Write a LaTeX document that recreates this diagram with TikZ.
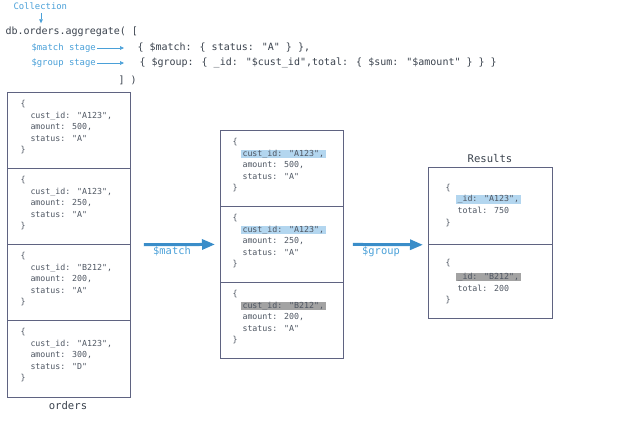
\documentclass[tikz,border=0pt]{standalone}
\usepackage{fontspec}
\newfontfamily\mono{DejaVu Sans Mono}
\usetikzlibrary{arrows.meta}
\definecolor{codecol}{HTML}{3A424D}
\definecolor{cellcol}{HTML}{4E5662}
\definecolor{lblblue}{HTML}{4AA0D8}
\definecolor{arrblue}{HTML}{3A8DC9}
\definecolor{hlb}{HTML}{B3D6EF}
\definecolor{hlg}{HTML}{A3A3A3}
\definecolor{boxcol}{HTML}{5F6381}
\tikzset{
  txt/.style={font=\mono\fontsize{8.3}{10}\selectfont, text=cellcol, anchor=west,
    inner sep=0.3pt, text height=6pt, text depth=1.8pt},
  hlblue/.style={txt, fill=hlb, inner xsep=1.5pt, xshift=-1.2pt},
  hlgray/.style={txt, fill=hlg, inner xsep=1.5pt, xshift=-1.2pt},
  code/.style={font=\mono\fontsize{10}{12}\selectfont, text=codecol, anchor=west,
    inner sep=0.3pt, text height=7.2pt, text depth=2.2pt},
  bluelbl/.style={font=\mono\fontsize{8.9}{11}\selectfont, text=lblblue, anchor=west,
    inner sep=0.3pt, text height=6.5pt, text depth=2pt},
  arrlbl/.style={font=\mono\fontsize{10.4}{12}\selectfont, text=lblblue,
    inner sep=0.3pt, text height=7.4pt, text depth=2.2pt},
  title/.style={font=\mono\fontsize{10.6}{12}\selectfont, text=codecol,
    inner sep=0.3pt, text height=7.5pt, text depth=2.2pt},
  cellbox/.style={draw=boxcol, line width=0.8pt, rectangle, anchor=north west,
    minimum width=123pt, inner sep=0pt},
  bigarrow/.style={draw=arrblue, line width=3pt, -{Triangle[length=13pt,width=10pt]}},
  smallarrow/.style={draw=lblblue, line width=0.6pt, -{Triangle[length=4pt,width=3.6pt]}},
}
\newcommand\mydoc[7]{%
  \node[txt] (#1-o) at (#2, -#3-12.5) {\{};
  \node[#4] (#1-a) at (#2+10, -#3-24) {#5};
  \node[txt] (#1-b) at (#2+10, -#3-35.5) {#6};
  \node[txt] (#1-c) at (#2+10, -#3-47) {#7};
  \node[txt] (#1-e) at (#2, -#3-58.5) {\}};
}
\newcommand\myres[5]{%
  \node[txt] (#1-o) at (#2, -#3-20) {\{};
  \node[#4] (#1-a) at (#2+12, -#3-32.5) {#5};
  \node[txt] (#1-b) at (#2+12, -#3-44) {total: \ifnum0=0\fi};
}
\begin{document}
\begin{tikzpicture}[x=1pt,y=1pt]
\useasboundingbox (0,0) rectangle (620,-424);
% header code
\node[bluelbl] (coll) at (13,-7) {Collection};
\node[code] (db) at (5,-32) {db.orders.aggregate( [};
\draw[smallarrow, shorten <=1.5pt, shorten >=3.5pt] (coll.south -| 41,0) -- (db.north -| 41,0);
\node[bluelbl] (mstage) at (31,-48) {\$match stage};
\node[bluelbl] (gstage) at (31,-63) {\$group stage};
\node[code] (mcode) at (137,-48) {\{ \$match: \{ status: "A" \} \},};
\node[code] (gcode) at (139,-63) {\{ \$group: \{ \_id: "\$cust\_id",total: \{ \$sum: "\$amount" \} \} \}};
\node[code] (close) at (118,-81) {] )};
\draw[smallarrow, shorten <=1pt, shorten >=13pt] (mstage.east) -- (mcode.west);
\draw[smallarrow, shorten <=1pt, shorten >=15pt] (gstage.east) -- (gcode.west);
% orders collection
\node[cellbox, minimum height=76pt] (o1) at (7,-92) {};
\node[cellbox, minimum height=76pt] (o2) at (7,-168) {};
\node[cellbox, minimum height=76pt] (o3) at (7,-244) {};
\node[cellbox, minimum height=77pt] (o4) at (7,-320) {};
\mydoc{d1}{20}{92}{txt}{cust\_id: "A123",}{amount: 500,}{status: "A"}
\mydoc{d2}{20}{168}{txt}{cust\_id: "A123",}{amount: 250,}{status: "A"}
\mydoc{d3}{20}{244}{txt}{cust\_id: "B212",}{amount: 200,}{status: "A"}
\mydoc{d4}{20}{320}{txt}{cust\_id: "A123",}{amount: 300,}{status: "D"}
\node[title] (orders) at (68,-407) {orders};
% matched
\node[cellbox, minimum height=76pt] (m1) at (220,-130) {};
\node[cellbox, minimum height=76pt] (m2) at (220,-206) {};
\node[cellbox, minimum height=76pt] (m3) at (220,-282) {};
\mydoc{e1}{232}{130}{hlblue}{cust\_id: "A123",}{amount: 500,}{status: "A"}
\mydoc{e2}{232}{206}{hlblue}{cust\_id: "A123",}{amount: 250,}{status: "A"}
\mydoc{e3}{232}{282}{hlgray}{cust\_id: "B212",}{amount: 200,}{status: "A"}
% results
\node[cellbox, minimum height=77pt, minimum width=124pt] (r1) at (428,-167) {};
\node[cellbox, minimum height=74pt, minimum width=124pt] (r2) at (428,-244) {};
\node[title] (reslbl) at (490,-159.5) {Results};
\node[txt] (f1-o) at (445,-188) {\{};
\node[hlblue] (f1-a) at (457,-199.5) {\_id: "A123",};
\node[txt] (f1-b) at (457,-211) {total: 750};
\node[txt] (f1-e) at (445,-223.5) {\}};
\node[txt] (f2-o) at (445,-263) {\{};
\node[hlgray] (f2-a) at (457,-277) {\_id: "B212",};
\node[txt] (f2-b) at (457,-289) {total: 200};
\node[txt] (f2-e) at (445,-300.5) {\}};
% stage arrows
\draw[bigarrow, shorten <=13pt, shorten >=5pt] (o2.south east) -- (m2.west);
\node[arrlbl] (matchlbl) at (172,-251.5) {\$match};
\draw[bigarrow, shorten <=9pt, shorten >=5pt] (m2.east) -- (r1.south west);
\node[arrlbl] (grouplbl) at (381,-251.5) {\$group};
\end{tikzpicture}
\end{document}
